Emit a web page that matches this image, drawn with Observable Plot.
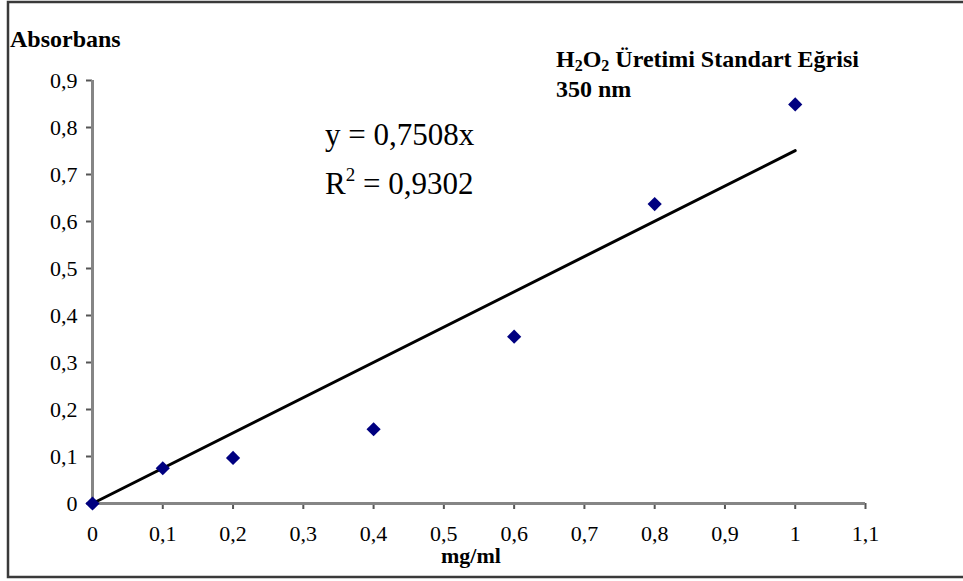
<!DOCTYPE html>
<html>
<head>
<meta charset="utf-8">
<script src="https://cdn.jsdelivr.net/npm/d3@7"></script>
<script src="https://cdn.jsdelivr.net/npm/@observablehq/plot@0.6"></script>
<style>
  html, body { margin: 0; padding: 0; background: #fff; overflow: hidden; }
  svg { display: block; }
  svg text { font-family: "Liberation Serif", "Times New Roman", serif !important; }
</style>
</head>
<body>
<div id="chart"></div>
<script>
const concentrations = [0, 0.1, 0.2, 0.4, 0.6, 0.8, 1.0];
const absorbances = [0, 0.075, 0.097, 0.158, 0.355, 0.637, 0.849];
const slope = 0.7508;
const rSquared = "0,9302";
const trendX = [0, 1];
const xTicks = [0, 0.1, 0.2, 0.3, 0.4, 0.5, 0.6, 0.7, 0.8, 0.9, 1.0, 1.1];
const yTicks = [0, 0.1, 0.2, 0.3, 0.4, 0.5, 0.6, 0.7, 0.8, 0.9];

const points = concentrations.map((x, i) => ({x, y: absorbances[i]}));
const trend = trendX.map(x => ({x, y: slope * x}));
const fmt = d => String(+d.toFixed(2)).replace(".", ",");
const FONT = "Liberation Serif";
const AXIS = "#858585";

const plot = Plot.plot({
  width: 963,
  height: 581,
  marginLeft: 92,
  marginRight: 98,
  marginTop: 80,
  marginBottom: 78,
  style: {fontFamily: FONT, fontSize: "22px", color: "#000", background: "#fff"},
  x: {domain: [0, 1.1], ticks: xTicks, tickFormat: fmt, label: null},
  y: {domain: [0, 0.9], ticks: yTicks, tickFormat: fmt, label: null},
  marks: [
    Plot.axisX({ticks: xTicks, tickFormat: fmt, tickSize: 6, tickPadding: 16, stroke: "#555", strokeWidth: 2, fill: "#000", fontSize: 22, label: null}),
    Plot.axisY({ticks: yTicks, tickFormat: fmt, tickSize: 6, tickPadding: 9, stroke: "#555", strokeWidth: 2, fill: "#000", fontSize: 22, label: null}),
    Plot.ruleY([0], {stroke: AXIS, strokeWidth: 3}),
    Plot.ruleX([0], {y1: 0, y2: 0.9, stroke: AXIS, strokeWidth: 3}),
    Plot.line(trend, {x: "x", y: "y", stroke: "#000", strokeWidth: 3}),
    Plot.dot(points, {x: "x", y: "y", symbol: "diamond2", r: 6.4, fill: "#000080", stroke: "none"})
  ]
});

document.getElementById("chart").append(plot);

const svg = d3.select(plot);
svg.append("rect")
  .attr("x", 8).attr("y", 2).attr("width", 1000).attr("height", 575)
  .attr("fill", "none").attr("stroke", "#3a3a3a").attr("stroke-width", 2.5);

function txt(x, y, size, bold, anchor) {
  return svg.append("text").attr("x", x).attr("y", y)
    .attr("font-size", size)
    .attr("font-weight", bold ? "bold" : "normal")
    .attr("text-anchor", anchor || "start")
    .style("text-anchor", anchor || "start");
}

// Axis titles
txt(10, 47, 24, true).text("Absorbans");
txt(471, 563, 22, true, "middle").text("mg/ml");

// Chart title
const t1 = txt(556, 67, 24, true);
t1.append("tspan").text("H");
t1.append("tspan").attr("font-size", 16).attr("dy", 4).text("2");
t1.append("tspan").attr("dy", -4).text("O");
t1.append("tspan").attr("font-size", 16).attr("dy", 4).text("2");
t1.append("tspan").attr("dy", -4).text(" Üretimi Standart Eğrisi");
txt(556, 97, 24, true).text("350 nm");

// Equation
txt(325, 145, 31, false).text("y = " + String(slope).replace(".", ",") + "x");
const r2 = txt(325, 194, 31, false);
r2.append("tspan").text("R");
r2.append("tspan").attr("font-size", 19).attr("dy", -13).text("2");
r2.append("tspan").attr("dy", 13).text(" = " + rSquared);
</script>
</body>
</html>
